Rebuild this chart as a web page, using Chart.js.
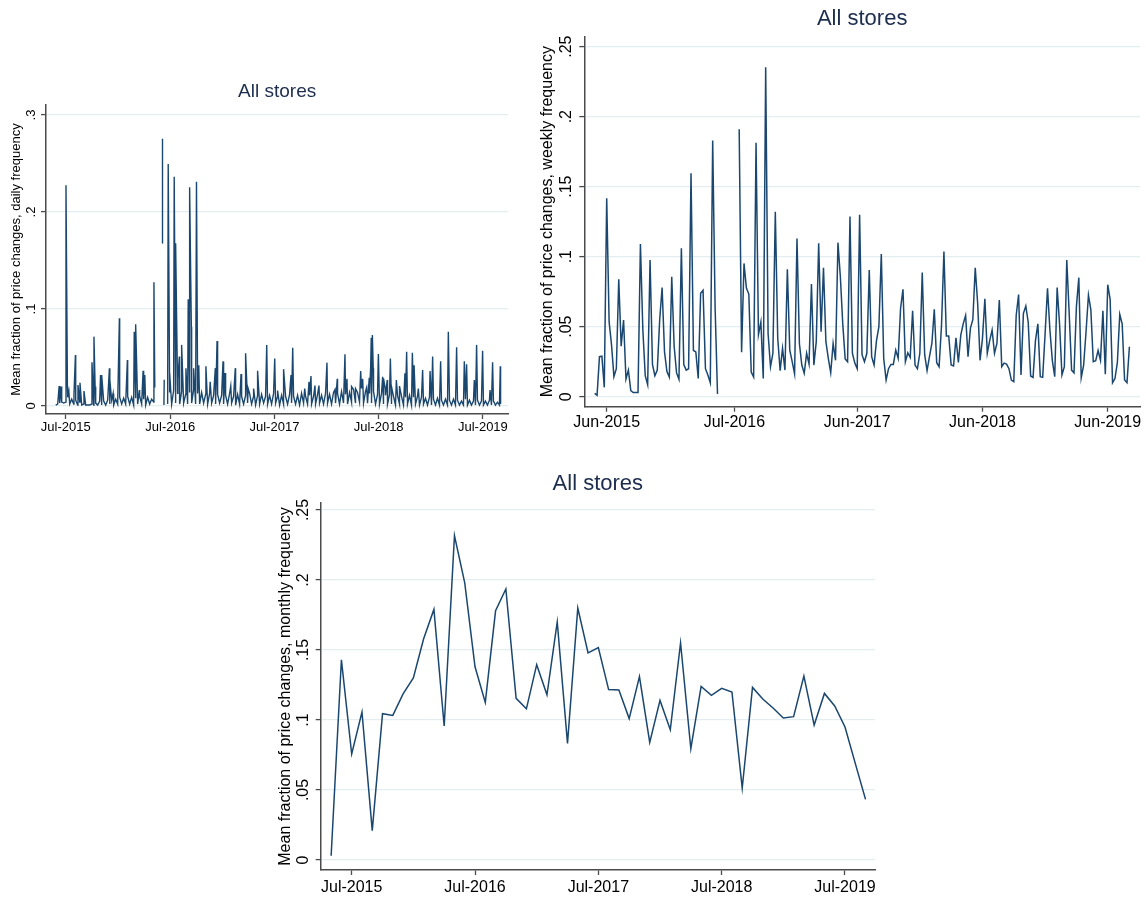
<!DOCTYPE html>
<html>
<head>
<meta charset="utf-8">
<script src="https://cdn.jsdelivr.net/npm/chart.js@4.4.0/dist/chart.umd.min.js"></script>
<style>
  body { margin: 0; background: #fff; width: 1146px; height: 913px; position: relative; overflow: hidden; }
  canvas { position: absolute; }
</style>
</head>
<body>
<canvas id="daily" width="520" height="380" style="left:0;top:60px;width:520px;height:380px"></canvas>
<canvas id="weekly" width="616" height="440" style="left:530px;top:0;width:616px;height:440px"></canvas>
<canvas id="monthly" width="630" height="453" style="left:260px;top:460px;width:630px;height:453px"></canvas>
<script>
// ---- daily: days counted from 1 Jul 2015 ----
const dailyTickDays = [0, 366, 731, 1096, 1461];
const dailyTickLabels = ['Jul-2015', 'Jul-2016', 'Jul-2017', 'Jul-2018', 'Jul-2019'];
const dailyYTicks = [0, 0.1, 0.2, 0.3];
// low level of the daily series, one reading every 7 days from day -35 (null = no data)
const dailyLowStart = -35;
const dailyLowStep = 7;
const dailyLow = [
  0.001, 0.002, 0.003, 0.004, 0.003,
  0.004, 0.009, 0.002, 0.007, 0.002, 0.006, 0.001, 0.004, 0.001, 0.002, 0.001, 0.001, 0.001,
  0.002, 0.001, 0.003, 0.001, 0.005, 0.001, 0.005, 0.001, 0.006, 0.002, 0.006, 0.001, 0.007,
  0.002, 0.009, 0.002, 0.008, 0.002, 0.010, 0.002, 0.009, 0.001, 0.008, 0.002, 0.010, 0.002,
  0.007, 0.001, 0.009, 0.002, 0.007,
  0.004, null, null, null, null, null, null,
  0.002, 0.014, 0.002, 0.016, 0.003, 0.013, 0.002, 0.015, 0.003, 0.012, 0.002, 0.014, 0.003, 0.017,
  0.002, 0.013, 0.002, 0.014, 0.003, 0.012, 0.002, 0.013, 0.003, 0.011, 0.002, 0.012, 0.003, 0.011,
  0.002, 0.011, 0.002, 0.013, 0.003, 0.010, 0.001, 0.012, 0.002, 0.010, 0.002, 0.011, 0.003, 0.013,
  0.002, 0.010, 0.001, 0.011, 0.002, 0.012, 0.003, 0.010, 0.002, 0.011, 0.002, 0.013, 0.003, 0.010,
  0.001, 0.011, 0.002, 0.010, 0.002, 0.012, 0.003, 0.010, 0.002, 0.011, 0.001, 0.013, 0.003, 0.010,
  0.002, 0.011, 0.002, 0.010, 0.002, 0.012, 0.003, 0.011, 0.002, 0.013,
  0.003, 0.012, 0.002, 0.014, 0.003, 0.013, 0.002, 0.015, 0.003, 0.012, 0.002, 0.014, 0.004, 0.017,
  0.003, 0.014, 0.004, 0.018, 0.003, 0.015, 0.003, 0.013, 0.003, 0.015, 0.002, 0.012, 0.002, 0.013,
  0.002, 0.011, 0.002, 0.012, 0.002, 0.010, 0.001, 0.011, 0.002, 0.010, 0.001, 0.009, 0.002, 0.011,
  0.001, 0.009, 0.002, 0.010, 0.001, 0.009, 0.002, 0.008, 0.001, 0.009,
  0.001, 0.007, 0.001, 0.008, 0.001, 0.006, 0.001, 0.007, 0.001, 0.006, 0.001, 0.007, 0.001, 0.006,
  0.001, 0.005, 0.001, 0.007, 0.001, 0.006, 0.001, 0.005, 0.001, 0.006, 0.001, 0.005, 0.001, 0.005,
  0.001, 0.006, 0.001, 0.005, 0.001, 0.004, 0.001
];
// individual days that stand out (spikes, isolated segments around the data gap)
const dailySpikeDays = [
  -23, -16, 1, 6, 11, 29, 34, 43, 50, 64, 92, 99, 103, 122, 126, 153, 155, 166, 188, 216,
  240, 245, 258, 271, 277, 309, 312, 338, 339, 344, 345, 359, 364, 380, 385, 393, 398, 406, 421, 429,
  434, 440, 448, 458, 466, 491, 506, 524, 530, 551, 558, 578, 594, 614, 630, 639, 658, 672, 704, 732,
  742, 763, 789, 795, 837, 852, 859, 873, 887, 915, 943, 951, 978, 985, 1001, 1015, 1033, 1040, 1054, 1063,
  1068, 1070, 1074, 1077, 1095, 1110, 1113, 1119, 1126, 1137, 1141, 1158, 1169, 1188, 1194, 1214, 1220, 1235, 1250, 1276,
  1285, 1313, 1340, 1369, 1396, 1404, 1431, 1439, 1460, 1486, 1495, 1522, 1523
];
const dailySpikeValues = [
  0.0206, 0.020, 0.2275, 0.020, 0.015, 0.012, 0.0526, 0.0216, 0.024, 0.0155, 0.045, 0.0715, 0.020, 0.032, 0.032, 0.0388, 0.027, 0.013, 0.0904, 0.0474,
  0.0766, 0.0842, 0.0165, 0.0364, 0.032, 0.1275, 0.019, 0.168, 0.2755, 0.001, 0.027, 0.2495, 0.034, 0.2364, 0.1677, 0.0285, 0.0509, 0.063, 0.039, 0.110,
  0.2254, 0.0818, 0.0388, 0.2313, 0.042, 0.041, 0.025, 0.039, 0.067, 0.046, 0.034, 0.0206, 0.039, 0.033, 0.0543, 0.018, 0.018, 0.0364, 0.0629, 0.049,
  0.016, 0.038, 0.032, 0.060, 0.018, 0.025, 0.031, 0.021, 0.021, 0.0447, 0.017, 0.028, 0.0533, 0.028, 0.020, 0.018, 0.036, 0.028, 0.019, 0.029,
  0.0405, 0.0704, 0.0732, 0.039, 0.0536, 0.030, 0.0285, 0.018, 0.0268, 0.049, 0.020, 0.0268, 0.0206, 0.0337, 0.056, 0.055, 0.042, 0.018, 0.037, 0.036,
  0.051, 0.046, 0.0766, 0.0605, 0.046, 0.043, 0.0268, 0.063, 0.057, 0.0165, 0.045, 0.041, 0.002
];

// ---- weekly: weeks counted from the Jun-2015 tick ----
const weeklyTickWeeks = [0, 53, 104, 156, 208];
const weeklyTickLabels = ['Jun-2015', 'Jul-2016', 'Jun-2017', 'Jun-2018', 'Jun-2019'];
const weeklyYTicks = [0, 0.05, 0.1, 0.15, 0.2, 0.25];
const weeklyStart = -5;
const weeklyValues = [
  0.0024, 0.001, 0.0286, 0.029, 0.0067,
  0.1417, 0.0536, 0.037, 0.0143, 0.020, 0.0838, 0.036, 0.0548, 0.0126, 0.019,
  0.0043, 0.003, 0.003, 0.003, 0.109, 0.048, 0.015, 0.0086, 0.0976, 0.023,
  0.015, 0.019, 0.055, 0.078, 0.032, 0.018, 0.014, 0.0857, 0.036, 0.017,
  0.0124, 0.106, 0.023, 0.019, 0.020, 0.1596, 0.033, 0.032, 0.013, 0.0738,
  0.076, 0.020, 0.0155, 0.010, 0.1829, 0.064, 0.002, null, null, null,
  null, null, null, null, null, 0.191, 0.0317, 0.0952, 0.0776, 0.0733,
  0.0176, 0.014, 0.1814, 0.0443, 0.0533, 0.013, 0.2353, 0.045, 0.0214, 0.031,
  0.132, 0.0417, 0.0186, 0.0345, 0.019, 0.091, 0.0333, 0.025, 0.0162, 0.113,
  0.038, 0.0226, 0.0167, 0.031, 0.0233, 0.0805, 0.0226, 0.0393, 0.1095, 0.0464,
  0.0921, 0.0393, 0.0274, 0.0171, 0.038, 0.026, 0.110, 0.0857, 0.052, 0.027,
  0.025, 0.1286, 0.031, 0.024, 0.020, 0.130, 0.030, 0.025, 0.031, 0.0905,
  0.0286, 0.0226, 0.040, 0.05, 0.1019, 0.0274, 0.0119, 0.020, 0.023, 0.023,
  0.0333, 0.0274, 0.063, 0.0767, 0.025, 0.0314, 0.028, 0.0614, 0.0226, 0.020,
  0.031, 0.0886, 0.030, 0.0186, 0.0286, 0.038, 0.0624, 0.0243, 0.0214, 0.051,
  0.1036, 0.0433, 0.0433, 0.0226, 0.0219, 0.042, 0.0245, 0.044, 0.052, 0.058,
  0.0286, 0.049, 0.055, 0.092, 0.0667, 0.026, 0.0417, 0.070, 0.031, 0.040,
  0.0476, 0.031, 0.038, 0.069, 0.0214, 0.024, 0.0233, 0.020, 0.0119, 0.0107,
  0.058, 0.073, 0.0155, 0.0595, 0.0648, 0.053, 0.0148, 0.0138, 0.040, 0.052,
  0.0143, 0.0138, 0.045, 0.0774, 0.0476, 0.026, 0.0143, 0.078, 0.052, 0.0155,
  0.0214, 0.0976, 0.0595, 0.019, 0.017, 0.0643, 0.085, 0.0136, 0.0226, 0.0464,
  0.0726, 0.062, 0.025, 0.0257, 0.033, 0.026, 0.0614, 0.016, 0.080, 0.0695,
  0.010, 0.013, 0.0243, 0.0588, 0.052, 0.0119, 0.010, 0.0357
];

// ---- monthly: months counted from May 2015 ----
const monthlyTickMonths = [2, 14, 26, 38, 50];
const monthlyTickLabels = ['Jul-2015', 'Jul-2016', 'Jul-2017', 'Jul-2018', 'Jul-2019'];
const monthlyYTicks = [0, 0.05, 0.1, 0.15, 0.2, 0.25];
const monthlyValues = [
  0.003, 0.143, 0.0757, 0.1057, 0.021, 0.1045, 0.1033, 0.1186,
  0.13, 0.158, 0.179, 0.0957, 0.2317, 0.198, 0.138, 0.1126, 0.178, 0.1936, 0.1155, 0.108,
  0.1395, 0.118, 0.170, 0.0833, 0.18, 0.148, 0.1517, 0.1217, 0.1214, 0.101, 0.131, 0.084,
  0.114, 0.093, 0.155, 0.0795, 0.124, 0.1176, 0.1226, 0.120, 0.0514, 0.1233, 0.115, 0.1086,
  0.1014, 0.1024, 0.1314, 0.0964, 0.119, 0.110, 0.095, 0.069, 0.0433
];

const navy = '#1a476f';
const gridColor = '#e4edef';
const axisColor = '#4b4b4b';
const fontFamily = '"Liberation Sans", Arial, Helvetica, sans-serif';
Chart.defaults.font.family = fontFamily;
Chart.defaults.color = '#000';

function stataLabel(v) {
  return v === 0 ? '0' : String(+v.toFixed(2)).replace(/^0\./, '.');
}

const panelTitle = {
  id: 'panelTitle',
  afterDraw(chart, args, opts) {
    const { ctx, chartArea } = chart;
    ctx.save();
    ctx.font = opts.size + 'px ' + fontFamily;
    ctx.fillStyle = '#1c2d4d';
    ctx.textAlign = 'center';
    ctx.textBaseline = 'middle';
    ctx.fillText(opts.text, (chartArea.left + chartArea.right) / 2, opts.y);
    ctx.restore();
  }
};

function makePanel(id, c) {
  return new Chart(document.getElementById(id), {
    type: 'line',
    data: {
      datasets: [{
        data: c.points,
        borderColor: navy,
        borderWidth: c.lineWidth,
        pointRadius: 0,
        tension: 0,
        spanGaps: false,
        fill: false
      }]
    },
    options: {
      responsive: false,
      animation: false,
      devicePixelRatio: 1,
      layout: { padding: c.padding },
      plugins: {
        legend: { display: false },
        tooltip: { enabled: false },
        panelTitle: { text: 'All stores', y: c.titleY, size: c.titleSize }
      },
      scales: {
        x: {
          type: 'linear',
          min: c.xMin,
          max: c.xMax,
          afterBuildTicks: s => { s.ticks = c.xTicks.map(v => ({ value: v })); },
          afterFit: s => { s.height = c.xHeight; },
          ticks: {
            callback: (v, i) => c.xLabels[i],
            font: { size: c.tickSize },
            padding: c.xTickPad,
            minRotation: 0,
            maxRotation: 0,
            autoSkip: false
          },
          grid: { drawOnChartArea: false, drawTicks: true, tickLength: 5, tickColor: axisColor, tickWidth: 1.3 },
          border: { color: axisColor, width: 1.5 }
        },
        y: {
          min: c.yMin,
          max: c.yMax,
          afterBuildTicks: s => { s.ticks = c.yTicks.map(v => ({ value: v })); },
          afterFit: s => { s.width = c.yWidth; },
          ticks: {
            callback: v => stataLabel(v),
            font: { size: c.tickSize },
            minRotation: 90,
            maxRotation: 90,
            crossAlign: 'center',
            padding: c.yTickPad,
            autoSkip: false
          },
          grid: { color: gridColor, lineWidth: 1.2, drawTicks: true, tickLength: 5, tickColor: axisColor, tickWidth: 1.3 },
          border: { color: axisColor, width: 1.5 },
          title: {
            display: true,
            text: c.yTitle,
            font: { size: c.yTitleSize },
            padding: { top: c.yTitlePad, bottom: 0 }
          }
        }
      }
    },
    plugins: [panelTitle]
  });
}

// daily points: regular low readings plus the standout days, in date order
const dailyPoints = dailyLow.map((v, k) => ({ x: dailyLowStart + k * dailyLowStep, y: v }))
  .concat(dailySpikeDays.map((d, i) => ({ x: d, y: dailySpikeValues[i] })))
  .sort((a, b) => a.x - b.x);

makePanel('daily', {
  points: dailyPoints,
  lineWidth: 1.4,
  padding: { left: 0, top: 45, right: 11.7, bottom: 0 },
  titleY: 32, titleSize: 19,
  xMin: -69, xMax: 1550, xTicks: dailyTickDays, xLabels: dailyTickLabels, xHeight: 26, xTickPad: 1,
  yMin: -0.00825, yMax: 0.3103, yTicks: dailyYTicks, yWidth: 46, yTickPad: 4,
  tickSize: 13,
  yTitle: 'Mean fraction of price changes, daily frequency', yTitleSize: 13, yTitlePad: 8.9
});

makePanel('weekly', {
  points: weeklyValues.map((v, i) => ({ x: weeklyStart + i, y: v })),
  lineWidth: 1.5,
  padding: { left: 0, top: 36.7, right: 6, bottom: 0 },
  titleY: 19, titleSize: 22,
  xMin: -9.3, xMax: 221.4, xTicks: weeklyTickWeeks, xLabels: weeklyTickLabels, xHeight: 33.3, xTickPad: 1.2,
  yMin: -0.00714, yMax: 0.2571, yTicks: weeklyYTicks, yWidth: 54.3, yTickPad: 1.2,
  tickSize: 16,
  yTitle: 'Mean fraction of price changes, weekly frequency', yTitleSize: 16, yTitlePad: 8.4
});

makePanel('monthly', {
  points: monthlyValues.map((v, i) => ({ x: i, y: v })),
  lineWidth: 1.5,
  padding: { left: 0, top: 43, right: 15, bottom: 0 },
  titleY: 24, titleSize: 22,
  xMin: -1.016, xMax: 52.92, xTicks: monthlyTickMonths, xLabels: monthlyTickLabels, xHeight: 43, xTickPad: 2.9,
  yMin: -0.00714, yMax: 0.255, yTicks: monthlyYTicks, yWidth: 60.7, yTickPad: 1.3,
  tickSize: 16,
  yTitle: 'Mean fraction of price changes, monthly frequency', yTitleSize: 16, yTitlePad: 16.4
});
</script>
</body>
</html>
